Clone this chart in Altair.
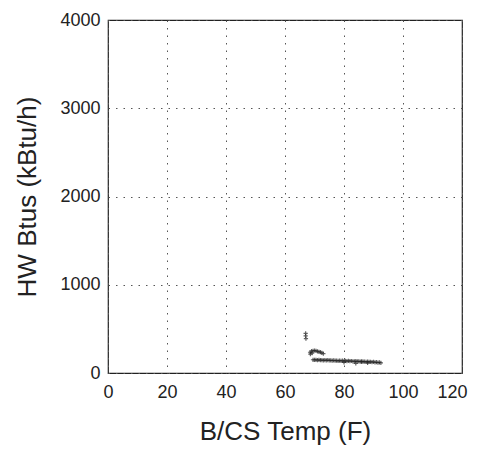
import altair as alt
import pandas as pd

# Scatter points
temp_f = [67.0, 67.0, 67.1,
          68.5, 69.0, 69.5, 70.0, 70.5, 71.0, 71.5, 72.0, 72.5, 73.0, 68.6, 69.2,
          69.5, 70.0, 70.5, 71.0, 71.5, 72.0, 72.5, 73.0, 73.5, 74.0, 74.5, 75.0,
          75.5, 76.0, 76.5, 77.0, 77.5, 78.0, 78.5, 79.0, 79.5, 80.0, 80.5, 81.0,
          81.5, 82.0, 82.5, 83.0, 83.5, 84.0, 84.5, 85.0, 85.5, 86.0, 86.5, 87.0,
          87.5, 88.0, 88.5, 89.0, 89.5, 90.0, 90.5, 91.0, 91.5, 92.0, 92.5,
          80.0, 84.0, 86.0, 88.0]
hw_btus = [450, 420, 390,
           235, 248, 252, 255, 250, 246, 240, 236, 228, 220, 215, 225,
           150, 148, 150, 146, 148, 145, 147, 144, 146, 143, 145, 142,
           144, 140, 142, 139, 141, 138, 140, 137, 139, 136, 138, 135,
           137, 134, 136, 133, 132, 134, 131, 133, 130, 132, 128, 130,
           127, 129, 125, 127, 124, 126, 120, 122, 118, 120, 115,
           120, 110, 125, 115]

df = pd.DataFrame({"temp": temp_f, "btus": hw_btus})

x_ticks = [0, 20, 40, 60, 80, 100, 120]
y_ticks = [0, 1000, 2000, 3000, 4000]

font = "Liberation Sans"

chart = alt.Chart(df).mark_point(
    shape="M-1,0L1,0M0,-1L0,1",
    filled=False,
    size=18,
    strokeWidth=1.2,
    color="#222222",
).encode(
    x=alt.X("temp:Q", scale=alt.Scale(domain=[0, 120], nice=False),
            axis=alt.Axis(values=x_ticks, format="d", title="B/CS Temp (F)",
                          labelFlush=True, labelFlushOffset=5)),
    y=alt.Y("btus:Q", scale=alt.Scale(domain=[0, 4000], nice=False),
            axis=alt.Axis(values=y_ticks, format="d", title="HW Btus (kBtu/h)",
                          labelFlush=False)),
).properties(
    width=354,
    height=353,
    autosize=alt.AutoSizeParams(type="none"),
    padding={"left": 100, "top": 12, "right": 11, "bottom": 76},
).configure_view(
    stroke="#222222",
    strokeWidth=1.2,
).configure_axis(
    grid=True,
    gridColor="#555555",
    gridDash=[1.5, 6],
    gridWidth=1,
    domain=False,
    ticks=False,
    labelOverlap=False,
    labelFont=font,
    labelFontSize=18,
    labelColor="#222222",
    titleFont=font,
    titleFontSize=26,
    titleFontWeight="normal",
    titleColor="#222222",
).configure_axisX(
    labelPadding=10,
    titlePadding=17,
).configure_axisY(
    labelPadding=8,
    titlePadding=19,
)

chart.save("out.html", embed_options={"renderer": "svg", "actions": False})
